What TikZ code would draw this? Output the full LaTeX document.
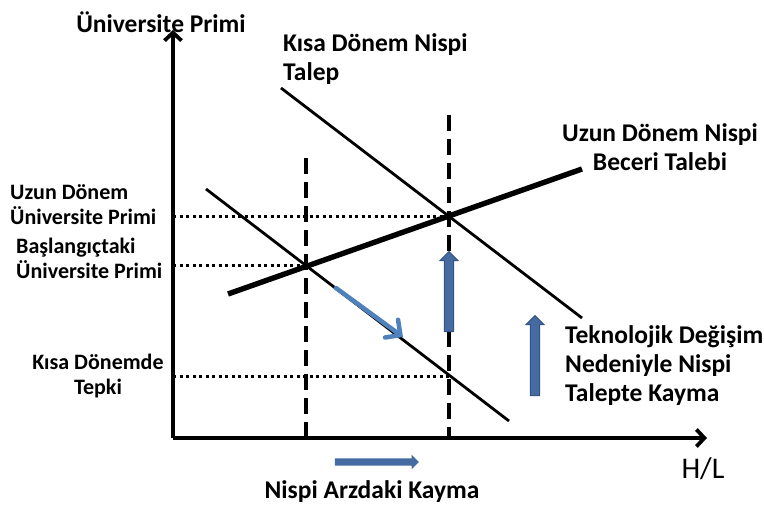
\documentclass[tikz,border=0pt]{standalone}
\usepackage{fontspec}
\setmainfont{Carlito}
\usepackage{tikz}
\usetikzlibrary{arrows.meta, positioning, shapes.arrows, calc}

\definecolor{shiftblue}{RGB}{70,106,162}
\definecolor{shiftedge}{RGB}{52,84,130}
\definecolor{slideblue}{RGB}{79,129,189}

\begin{document}
\begin{tikzpicture}[x=1pt, y=-1pt,
    axis/.style={line width=3.8pt,
      -{Straight Barb[length=8pt, width=17pt]}},
    demand/.style={line width=2.8pt},
    supply/.style={line width=5.4pt},
    guide/.style={line width=3.2pt, dash pattern=on 16pt off 8pt},
    level/.style={line width=3pt, dash pattern=on 3pt off 3.5pt},
    lbl/.style={font=\fontsize{25.5}{29}\selectfont\bfseries,
      align=left, inner sep=0pt},
    sidelbl/.style={font=\fontsize{22}{25}\selectfont\bfseries,
      align=left, inner sep=0pt},
    block/.style={single arrow, rotate=90, fill=shiftblue,
      draw=shiftedge, line width=1pt, inner sep=4.2pt,
      single arrow head extend=4.2pt, single arrow tip angle=90,
      minimum height=80pt},
]
\useasboundingbox (0,0) rectangle (764,505);

% Key points
\coordinate (O) at (173,438);
\coordinate (ytip) at (173,30);
\coordinate (xtip) at (707,438);
\coordinate (E0) at (306,266);
\coordinate (E1) at (449,217);
\coordinate (E2) at (449,377);

% Guide lines (dashed verticals, dotted levels)
\coordinate (g0) at (306,158);
\coordinate (g1) at (449,115);
\draw[guide] (g0) -- (O -| g0);
\draw[guide] (g1) -- (O -| g1);
\foreach \p in {E0, E1, E2} {
  \draw[level] (O |- \p) -- (\p);
}

% Demand and supply curves
\coordinate (d0a) at (206,189);
\coordinate (d0b) at (509,421);
\coordinate (d1a) at (281,88);
\coordinate (d1b) at (582,318);
\coordinate (sa) at (228,294);
\coordinate (sb) at (582,169);
\draw[demand] (d0a) -- (d0b);
\draw[demand] (d1a) -- (d1b);
\draw[supply] (sa) -- (sb);

% Axes
\draw[axis] (O) -- (ytip);
\draw[axis] (O) -- (xtip);

% Shift arrows
\coordinate (m0) at (336,288);
\coordinate (m1) at (403,337);
\draw[slideblue, line width=4.5pt, line cap=round,
  -{Straight Barb[length=11pt, width=22pt, line cap=round]}] (m0) -- (m1);
\node[block] (up1) at (449,294) {};
\node[block] (up2) at (535,358) {};
\node[single arrow, fill=shiftblue, inner sep=3.5pt,
  single arrow head extend=3.5pt, minimum height=84pt] (right1)
  at (375,462) {};

% Labels
\node[lbl] (ytitle) at (161,22) {Üniversite Primi};
\node[lbl, anchor=west] (srd) at (283,59) {Kısa Dönem Nispi\\Talep};
\node[lbl, align=center] (lrd) at (660,147) {Uzun Dönem Nispi\\Beceri Talebi};
\node[lbl, anchor=west] (tech) at (565,366)
  {Teknolojik Değişim\\Nedeniyle Nispi\\Talepte Kayma};
\node[sidelbl, anchor=west] (lrp) at (10,205) {Uzun Dönem\\Üniversite Primi};
\node[sidelbl, anchor=west] (inp) at (16,258) {Başlangıçtaki\\Üniversite Primi};
\node[sidelbl, align=center] (srp) at (98,376) {Kısa Dönemde\\Tepki};
\node[font=\fontsize{30}{32}\selectfont, inner sep=0pt] (xtitle)
  at (703,469) {H/L};
\node[lbl] (supp) at (372,492) {Nispi Arzdaki Kayma};

\end{tikzpicture}
\end{document}
